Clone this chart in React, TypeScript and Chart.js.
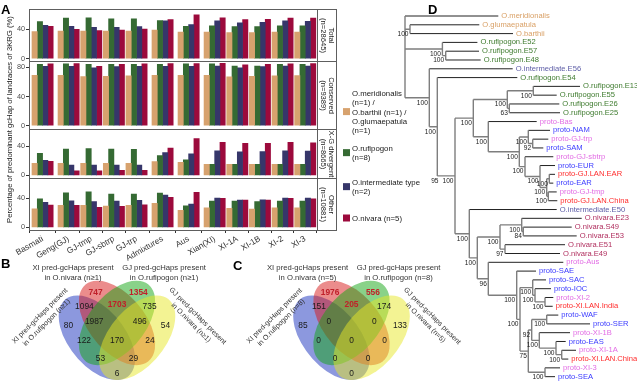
import { useEffect, useRef } from 'react';
import { Chart, registerables } from 'chart.js';

Chart.register(...registerables);

const FONT = '"Liberation Sans", Arial, Helvetica, sans-serif';

// ---------------- Panel A data ----------------
const categories = ['Basmati', 'Geng(GJ)', 'GJ-tmp', 'GJ-sbtrp', 'GJ-trp', 'Admixtures', 'Aus', 'Xian(XI)', 'XI-1A', 'XI-1B', 'XI-2', 'XI-3'];
const categoryPositions = [0, 1.15, 2.15, 3.15, 4.15, 5.3, 6.45, 7.6, 8.6, 9.6, 10.6, 11.6];

const speciesLegend = [
  ['O.meridionalis', '(n=1) /', 'O.barthii (n=1) /', 'O.glumaepatula', '(n=1)'],
  ['O.rufipogon', '(n=8)'],
  ['O.intermediate type', '(n=2)'],
  ['O.nivara (n=5)'],
];
const speciesColors = ['#D7A26E', '#356A33', '#36366A', '#9C0A3C'];

const facetNames = ['Total', 'Conserved', 'X-G divergent', 'Other'];
const facetCounts = ['(n=28645)', '(n=9389)', '(n=8665)', '(n=10881)'];
const yAxisTitle = 'Percentage of predominant gcHap of landraces of 3KRG (%)';

const totalWild = [36.9, 37.8, 37.8, 37.8, 37.8, 39.2, 36.5, 36.5, 35.5, 35.5, 36.5, 36.5];
const totalRufipogon = [50.8, 55.4, 55.8, 54.5, 54.5, 52.1, 44.3, 44.8, 43.8, 43.8, 44.8, 44.8];
const totalIntermediate = [45.7, 44.3, 42.9, 42.9, 43.8, 51.7, 46.6, 51.7, 48.9, 49.8, 51.7, 51.2];
const totalNivara = [44.3, 40.1, 38.3, 39.2, 40.6, 53.5, 60.0, 55.8, 53.5, 54.0, 55.4, 55.4];

const conservedWild = [69.0, 69.0, 67.3, 67.8, 68.3, 69.0, 69.0, 69.0, 66.9, 67.8, 68.3, 68.7];
const conservedRufipogon = [84.3, 84.7, 84.0, 84.0, 84.3, 84.3, 84.7, 84.7, 81.9, 81.9, 84.3, 84.3];
const conservedIntermediate = [81.5, 81.5, 79.5, 81.0, 81.5, 81.5, 81.5, 81.9, 79.5, 81.0, 81.9, 81.9];
const conservedNivara = [84.7, 85.0, 81.5, 84.0, 84.7, 85.0, 85.2, 85.6, 83.3, 84.0, 84.7, 85.0];

const divergentWild = [16.3, 16.3, 16.3, 16.3, 16.3, 18.7, 17.8, 14.9, 14.9, 14.9, 14.9, 14.9];
const divergentRufipogon = [30.2, 36.0, 36.5, 36.0, 35.5, 26.9, 21.1, 14.9, 14.9, 14.9, 14.9, 14.9];
const divergentIntermediate = [20.6, 13.9, 13.9, 13.9, 13.9, 31.2, 29.3, 33.6, 32.2, 32.6, 33.6, 33.1];
const divergentNivara = [19.2, 6.2, 6.2, 6.7, 6.7, 37.4, 50.4, 45.1, 43.7, 43.7, 45.1, 44.6];

const otherWild = [25.6, 30.2, 30.2, 29.3, 30.2, 33.0, 23.4, 27.0, 26.1, 25.2, 27.0, 27.0];
const otherRufipogon = [39.4, 47.6, 49.0, 45.8, 45.8, 47.2, 29.8, 36.2, 36.2, 35.3, 36.2, 36.2];
const otherIntermediate = [34.4, 36.6, 35.3, 36.2, 37.1, 44.4, 32.1, 40.3, 37.6, 38.0, 40.3, 40.3];
const otherNivara = [30.7, 30.2, 27.5, 28.9, 31.1, 41.2, 48.1, 39.9, 37.6, 37.6, 39.9, 39.4];

const facetTicks = [[0, 20, 40, 60], [0, 20, 40, 60, 80], [0, 20, 40, 60], [0, 20, 40, 60]];
const facetLimits = [[-3.5, 68], [-4, 88.5], [-4, 64], [-3.5, 67.5]];

// ---------------- Panel B / C data ----------------
// regions: b = XI in O.rufipogon, r = XI in O.nivara, g = GJ in O.rufipogon, y = GJ in O.nivara
const vennRegions = ['r', 'g', 'rg', 'br', 'gy', 'b', 'brg', 'rgy', 'y', 'bg', 'brgy', 'ry', 'bgy', 'bry', 'by'];
const vennBCounts = [747, 1354, 1703, 1094, 735, 80, 1987, 496, 54, 122, 170, 24, 53, 29, 6];
const vennCCounts = [1976, 556, 205, 151, 174, 85, 0, 0, 133, 0, 0, 0, 0, 0, 0];
const vennHighlighted = ['r', 'g', 'rg'];
const vennBTitles = [
  ['XI pred-gcHaps present', 'in O.nivara (n\u22651)'],
  ['GJ pred-gcHaps present', 'in O.rufipogon (n\u22651)'],
  ['XI pred-gcHaps present', 'in O.rufipogon (n\u22651)'],
  ['GJ pred-gcHaps present', 'in O.nivara (n\u22651)'],
];
const vennCTitles = [
  ['XI pred-gcHaps present', 'in O.nivara (n=5)'],
  ['GJ pred-gcHaps present', 'in O.rufipogon (n=8)'],
  ['XI pred-gcHaps present', 'in O.rufipogon (n=8)'],
  ['GJ pred-gcHaps present', 'in O.nivara (n=5)'],
];

// layout of the four-ellipse diagram (unit square coordinates, y up)
const vennLabelPos: Record<string, [number, number]> = {
  r: [0.34, 0.775], g: [0.66, 0.775], rg: [0.5, 0.69], br: [0.257, 0.68], gy: [0.743, 0.68],
  b: [0.138, 0.553], brg: [0.33, 0.578], rgy: [0.67, 0.578], y: [0.862, 0.553],
  bg: [0.254, 0.447], brgy: [0.5, 0.447], ry: [0.746, 0.447], bgy: [0.377, 0.326], bry: [0.623, 0.326], by: [0.5, 0.225],
};
const vennEllipses = [
  { cx: 0.35, cy: 0.47, rot: 135, fill: 'rgba(25,50,190,0.5)' },
  { cx: 0.5, cy: 0.57, rot: 135, fill: 'rgba(215,25,25,0.5)' },
  { cx: 0.5, cy: 0.57, rot: 45, fill: 'rgba(20,165,20,0.5)' },
  { cx: 0.65, cy: 0.47, rot: 45, fill: 'rgba(232,232,40,0.5)' },
];
const vennTitleLayout = [
  { x: 0.172, y: 0.9105, rot: 0, size: 7.7 },
  { x: 0.851, y: 0.9105, rot: 0, size: 7.7 },
  { x: -0.05, y: 0.595, rot: -45, size: 7.1 },
  { x: 1.077, y: 0.594, rot: 45, size: 7.1 },
];

// ---------------- Panel D data ----------------
const treeNewick = `(O.meridionalis:93.3,(O.glumaepatula:69.3,O.barthii:103)100:5,
((O.rufipogon.E52:35,(O.rufipogon.E57:33.3,O.rufipogon.E48:35)100:3.3)100:37.4,
(O.intermediate.E56:83.4,(O.rufipogon.E54:80,
(((((O.rufipogon.E13:46.7,O.rufipogon.E55:23.4)100:26,(O.rufipogon.E26:50,O.rufipogon.E25:50.7)63:2)100:34,
(proto-Bas:48.4,((proto-NAM:21.7,(proto-GJ-trp:15.6,proto-SAM:10.6)92:4.4)100:9,
(proto-GJ-sbtrp:28.3,(proto-EUR:15,((proto-GJ.LAN.EAR:5.7,proto-EAR:4)100:2.6,(proto-GJ-tmp:8.4,proto-GJ.LAN.China:9)100:1.6)100:6.7)100:15)100:5.7)100:31)100:15)100:18.3,
(O.intermediate.E50:87.4,(((O.nivara.E23:60,(O.nivara.S49:48.4,O.nivara.E53:53.4)84:1.6)100:21.7,(O.nivara.E51:60,O.nivara.E49:55)97:5)100:22.7,
(proto-Aus:75,(proto-SAE:19.3,((proto-SAC:13.3,(proto-IOC:16,(proto-XI-2:8.3,proto-XI.LAN.India:7.7)100:10)100:2.3)100:12.7,
(((proto-WAF:11.6,proto-SER:43.3)100:15,(proto-XI-1B:30.7,(proto-EAS:9.7,(proto-XI-1A:14.3,proto-XI.LAN.China:6.6)100:5.7)100:16.7)100:7.6)92:3.4,
(proto-XI-3:15,proto-SEA:10)100:16.7)75:8.3)100:3.3)100:28.4)96:11)100:8)100:14.3)100:15)95:2.7)100:8)100:24.3);`;

// ---------------- helpers ----------------
type TNode = { name: string; len: number; children: TNode[]; x: number; y: number };

function parseNewick(src: string): TNode {
  const s = src.replace(/\s+/g, '');
  let i = 0;
  const node = (): TNode => {
    const n: TNode = { name: '', len: 0, children: [], x: 0, y: 0 };
    if (s[i] === '(') {
      i++;
      n.children.push(node());
      while (s[i] === ',') { i++; n.children.push(node()); }
      i++;
    }
    let name = '';
    while (i < s.length && !',():;'.includes(s[i])) name += s[i++];
    n.name = name;
    if (s[i] === ':') {
      i++;
      let l = '';
      while (i < s.length && !',();'.includes(s[i])) l += s[i++];
      n.len = parseFloat(l);
    }
    return n;
  };
  return node();
}

function leafColor(name: string) {
  if (/meridionalis|glumaepatula|barthii/.test(name)) return '#D9A066';
  if (name.startsWith('O.rufipogon')) return '#3E7B2E';
  if (name.startsWith('O.intermediate')) return '#5C5CA6';
  if (name.startsWith('O.nivara')) return '#B02E5E';
  if (name.includes('LAN')) return '#FF2B2B';
  if (/proto-(GJ|XI|Bas|Aus)/.test(name)) return '#E26BE4';
  return '#3B3BFF';
}

const baseOptions = {
  animation: false as const,
  responsive: false,
  devicePixelRatio: 1,
  events: [] as any[],
};

// ---------------- Panel A ----------------
function createPanelA(canvas: HTMLCanvasElement) {
  const facetSeries = [
    [totalWild, totalRufipogon, totalIntermediate, totalNivara],
    [conservedWild, conservedRufipogon, conservedIntermediate, conservedNivara],
    [divergentWild, divergentRufipogon, divergentIntermediate, divergentNivara],
    [otherWild, otherRufipogon, otherIntermediate, otherNivara],
  ];
  const datasets: any[] = [];
  facetSeries.forEach((series, f) => {
    series.forEach((values, s) => {
      datasets.push({
        label: speciesLegend[s].join(' '),
        data: values.map((v, i) => ({ x: categoryPositions[i], y: v })),
        backgroundColor: speciesColors[s],
        borderWidth: 0,
        yAxisID: 'y' + f,
        stack: 'sp' + s,
        barThickness: 5.3,
      });
    });
  });

  const scales: any = {
    x: {
      type: 'linear',
      min: -0.6,
      max: 12.12,
      offset: false,
      afterBuildTicks: (axis: any) => { axis.ticks = categoryPositions.map((v) => ({ value: v })); },
      afterFit: (axis: any) => { axis.height = 35; },
      ticks: {
        autoSkip: false, minRotation: 30, maxRotation: 30, padding: 1, color: '#333',
        font: { family: FONT, size: 8.3 },
        callback: (_v: any, i: number) => categories[i],
      },
      grid: { drawOnChartArea: false, tickLength: 3, color: '#333' },
      border: { display: false },
    },
  };
  for (let f = facetNames.length - 1; f >= 0; f--) {
    scales['y' + f] = {
      type: 'linear',
      position: 'left',
      stack: 'facets',
      stackWeight: facetLimits[f][1] - facetLimits[f][0],
      offset: false,
      min: facetLimits[f][0],
      max: facetLimits[f][1],
      afterBuildTicks: (axis: any) => { axis.ticks = facetTicks[f].map((v) => ({ value: v })); },
      afterFit: (axis: any) => { axis.width = 15; },
      ticks: { padding: 1, color: '#4D4D4D', font: { family: FONT, size: 7.3 } },
      grid: { drawOnChartArea: false, tickLength: 3, color: '#333' },
      border: { display: false },
    };
  }

  const plugin = {
    id: 'panelA',
    afterDraw(chart: any) {
      const ctx = chart.ctx as CanvasRenderingContext2D;
      const area = chart.chartArea;
      ctx.save();
      facetNames.forEach((name, f) => {
        const sc = chart.scales['y' + f];
        const top = Math.round(sc.top) + 0.5;
        const h = Math.round(sc.bottom) - Math.round(sc.top);
        ctx.strokeStyle = '#5E5E5E';
        ctx.lineWidth = 1;
        ctx.strokeRect(Math.round(area.left) + 0.5, top, Math.round(area.right) - Math.round(area.left), h);
        const sx = Math.round(area.right) + 0.5;
        const sw = 19;
        ctx.fillStyle = '#FFFFFF';
        ctx.fillRect(sx, top, sw, h);
        ctx.strokeRect(sx, top, sw, h);
        ctx.save();
        ctx.translate(sx + sw / 2, top + h / 2);
        ctx.rotate(Math.PI / 2);
        ctx.fillStyle = '#1A1A1A';
        ctx.font = `7.6px ${FONT}`;
        ctx.textAlign = 'center';
        ctx.textBaseline = 'middle';
        ctx.fillText(name, 0, -4.4);
        ctx.fillText(facetCounts[f], 0, 4.4);
        ctx.restore();
      });
      // y axis title
      ctx.save();
      ctx.translate(9.5, (area.top + area.bottom) / 2);
      ctx.rotate(-Math.PI / 2);
      ctx.fillStyle = '#1A1A1A';
      ctx.font = `7.7px ${FONT}`;
      ctx.textAlign = 'center';
      ctx.textBaseline = 'middle';
      ctx.fillText(yAxisTitle, 0, 0);
      ctx.restore();
      // legend
      const lineH = 9.3;
      const firstLine = [94, 149, 183, 219];
      ctx.font = `7.8px ${FONT}`;
      ctx.textAlign = 'left';
      ctx.textBaseline = 'middle';
      speciesLegend.forEach((lines, s) => {
        const y0 = firstLine[s];
        const center = y0 + ((lines.length - 1) * lineH) / 2 - 1;
        ctx.fillStyle = speciesColors[s];
        ctx.fillRect(343, center - 3.5, 7, 7);
        ctx.fillStyle = '#1A1A1A';
        lines.forEach((t, k) => ctx.fillText(t, 352, y0 + k * lineH));
      });
      // panel letter
      ctx.font = `bold 13px ${FONT}`;
      ctx.fillStyle = '#000';
      ctx.textBaseline = 'alphabetic';
      ctx.fillText('A', 1, 14);
      ctx.restore();
    },
  };

  return new Chart(canvas, {
    type: 'bar',
    data: { datasets },
    options: {
      ...baseOptions,
      layout: { padding: { left: 14, top: 9, right: 108, bottom: 0 } },
      plugins: { legend: { display: false }, tooltip: { enabled: false } },
      scales,
    } as any,
    plugins: [plugin],
  });
}

// ---------------- Panels B / C ----------------
function createVenn(canvas: HTMLCanvasElement, counts: number[], titles: string[][], letter: string, letterPos: [number, number], xRange: [number, number]) {
  const plugin = {
    id: 'venn' + letter,
    beforeDatasetsDraw(chart: any) {
      const ctx = chart.ctx as CanvasRenderingContext2D;
      const xs = chart.scales.x;
      const ys = chart.scales.y;
      const kx = Math.abs(xs.getPixelForValue(1) - xs.getPixelForValue(0));
      const ky = Math.abs(ys.getPixelForValue(1) - ys.getPixelForValue(0));
      vennEllipses.forEach((e) => {
        ctx.save();
        ctx.translate(xs.getPixelForValue(e.cx), ys.getPixelForValue(e.cy));
        ctx.scale(kx, -ky);
        ctx.rotate((e.rot * Math.PI) / 180);
        ctx.beginPath();
        ctx.ellipse(0, 0, 0.35, 0.2, 0, 0, Math.PI * 2);
        ctx.restore();
        ctx.fillStyle = e.fill;
        ctx.fill();
      });
    },
    afterDatasetsDraw(chart: any) {
      const ctx = chart.ctx as CanvasRenderingContext2D;
      const xs = chart.scales.x;
      const ys = chart.scales.y;
      const meta = chart.getDatasetMeta(0);
      ctx.save();
      ctx.textAlign = 'center';
      ctx.textBaseline = 'middle';
      meta.data.forEach((pt: any, i: number) => {
        const hi = vennHighlighted.includes(vennRegions[i]);
        ctx.font = `${hi ? 'bold ' : ''}8.4px ${FONT}`;
        ctx.fillStyle = hi ? '#C0202A' : '#1A1A1A';
        ctx.fillText(String(counts[i]), pt.x, pt.y);
      });
      ctx.fillStyle = '#333';
      vennTitleLayout.forEach((t, k) => {
        ctx.save();
        ctx.font = `${t.size}px ${FONT}`;
        ctx.translate(xs.getPixelForValue(t.x), ys.getPixelForValue(t.y));
        ctx.rotate((t.rot * Math.PI) / 180);
        const lines = titles[k];
        const lh = t.rot === 0 ? 10 : 9.5;
        lines.forEach((line, j) => ctx.fillText(line, 0, (j - (lines.length - 1) / 2) * lh));
        ctx.restore();
      });
      ctx.font = `bold 13px ${FONT}`;
      ctx.fillStyle = '#000';
      ctx.textAlign = 'left';
      ctx.textBaseline = 'alphabetic';
      ctx.fillText(letter, letterPos[0], letterPos[1]);
      ctx.restore();
    },
  };
  return new Chart(canvas, {
    type: 'scatter',
    data: {
      datasets: [{
        data: vennRegions.map((r) => ({ x: vennLabelPos[r][0], y: vennLabelPos[r][1] })),
        pointRadius: 0,
        pointHoverRadius: 0,
      }],
    },
    options: {
      ...baseOptions,
      layout: { padding: 0 },
      plugins: { legend: { display: false }, tooltip: { enabled: false } },
      scales: {
        x: { type: 'linear', display: false, min: xRange[0], max: xRange[1] },
        y: { type: 'linear', display: false, min: 0.1646, max: 1.0621 },
      },
    } as any,
    plugins: [plugin],
  });
}

// ---------------- Panel D ----------------
function createTree(canvas: HTMLCanvasElement) {
  const root = parseNewick(treeNewick);
  const all: TNode[] = [];
  let leafIndex = 0;
  const visit = (n: TNode, px: number) => {
    n.x = px + n.len;
    all.push(n);
    if (n.children.length === 0) {
      n.y = leafIndex++;
    } else {
      n.children.forEach((c) => visit(c, n.x));
      n.y = (n.children[0].y + n.children[n.children.length - 1].y) / 2;
    }
  };
  root.len = 0;
  visit(root, 0);

  const gap = { x: NaN, y: NaN };
  const internal: any[] = [];
  const terminal: any[] = [];
  all.forEach((n) => {
    n.children.forEach((c) => {
      const target = c.children.length ? internal : terminal;
      target.push({ x: n.x, y: c.y }, { x: c.x, y: c.y }, gap);
    });
    if (n.children.length) {
      internal.push({ x: n.x, y: n.children[0].y }, { x: n.x, y: n.children[n.children.length - 1].y }, gap);
    }
  });

  const plugin = {
    id: 'treeLabels',
    afterDatasetsDraw(chart: any) {
      const ctx = chart.ctx as CanvasRenderingContext2D;
      const xs = chart.scales.x;
      const ys = chart.scales.y;
      ctx.save();
      ctx.textBaseline = 'middle';
      all.forEach((n) => {
        const px = xs.getPixelForValue(n.x);
        const py = ys.getPixelForValue(n.y);
        if (n.children.length === 0) {
          ctx.font = `7.6px ${FONT}`;
          ctx.fillStyle = leafColor(n.name);
          ctx.textAlign = 'left';
          ctx.fillText(n.name, px + 3, py);
        } else if (n.name && n !== root) {
          ctx.font = `6.6px ${FONT}`;
          ctx.fillStyle = '#222';
          ctx.textAlign = 'right';
          ctx.fillText(n.name, px - 1.5, py + 5);
        }
      });
      ctx.font = `bold 13px ${FONT}`;
      ctx.fillStyle = '#000';
      ctx.textAlign = 'left';
      ctx.textBaseline = 'alphabetic';
      ctx.fillText('D', 38, 14);
      ctx.restore();
    },
  };

  return new Chart(canvas, {
    type: 'scatter',
    data: {
      datasets: [
        { data: internal, showLine: true, spanGaps: false, borderColor: '#7E7E7E', borderWidth: 1.4, pointRadius: 0, fill: false, tension: 0 },
        { data: terminal, showLine: true, spanGaps: false, borderColor: '#222', borderWidth: 1, pointRadius: 0, fill: false, tension: 0 },
      ],
    },
    options: {
      ...baseOptions,
      layout: { padding: 0 },
      plugins: { legend: { display: false }, tooltip: { enabled: false } },
      scales: {
        x: { type: 'linear', display: false, min: -15, max: 232 },
        y: { type: 'linear', display: false, min: -1.819, max: 41.72, reverse: true },
      },
    } as any,
    plugins: [plugin],
  });
}

export default function App() {
  const aRef = useRef<HTMLCanvasElement>(null);
  const bRef = useRef<HTMLCanvasElement>(null);
  const cRef = useRef<HTMLCanvasElement>(null);
  const dRef = useRef<HTMLCanvasElement>(null);

  useEffect(() => {
    const charts = [
      createPanelA(aRef.current!),
      createVenn(bRef.current!, vennBCounts, vennBTitles, 'B', [1, 18], [-0.3731, 1.3806]),
      createVenn(cRef.current!, vennCCounts, vennCTitles, 'C', [3, 20], [-0.4067, 1.3843]),
      createTree(dRef.current!),
    ];
    return () => charts.forEach((c) => c.destroy());
  }, []);

  const abs = (left: number, top: number, w: number, h: number) => ({ position: 'absolute' as const, left, top, width: w, height: h });

  return (
    <div style={{ position: 'fixed', left: 0, top: 0, width: 637, height: 383, background: '#fff', overflow: 'hidden' }}>
      <canvas ref={dRef} width={247} height={383} style={abs(390, 0, 247, 383)} />
      <canvas ref={aRef} width={425} height={265} style={abs(0, 0, 425, 265)} />
      <canvas ref={bRef} width={235} height={133} style={abs(0, 250, 235, 133)} />
      <canvas ref={cRef} width={240} height={133} style={abs(230, 250, 240, 133)} />
    </div>
  );
}
